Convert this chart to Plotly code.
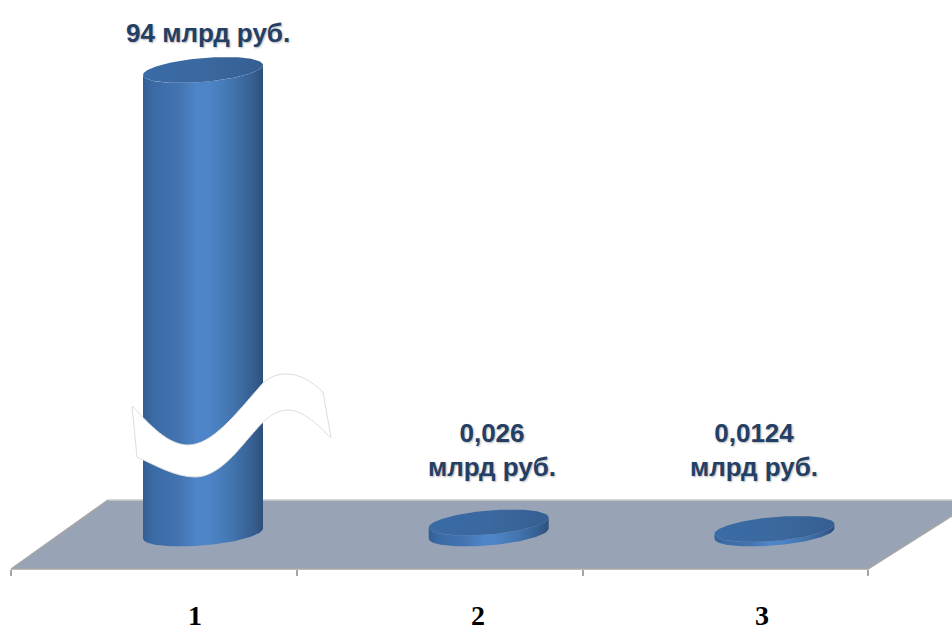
import numpy as np
import plotly.graph_objects as go

# ---- data ----
categories = ["1", "2", "3"]
value_labels = ["94 млрд руб.", "0,026<br>млрд руб.", "0,0124<br>млрд руб."]
# heights as drawn (the first column is drawn with a broken scale)
drawn_heights = [463.5, 11, 4.5]

# ---- frame: 1 x unit = one category, 1 y unit = one pixel, y=0 at column bases ----
W, H = 952, 626
X0_PX, CAT_PX, BASE_PX = 154.0, 285.7, 533.5


def fx(px):
    return (np.asarray(px, float) - X0_PX) / CAT_PX


def fy(py):
    return BASE_PX - np.asarray(py, float)


DEPTH = 49 / CAT_PX
RX, RY, TILT = 60 / CAT_PX, 12.0, 5.0
BODY_SCALE = [
    [0.0, "#325e92"], [0.08, "#3b6ba5"], [0.30, "#4374b0"], [0.45, "#4e85c8"],
    [0.55, "#4e85c8"], [0.75, "#4274ae"], [0.92, "#365e90"], [1.0, "#2e4f7a"],
]

fig = go.Figure()

# floor
floor_x = fx([11, 868, 977, 108, 11])
floor_y = fy([569, 569, 500, 500, 569])
fig.add_trace(go.Scatter(x=floor_x, y=floor_y, mode="lines", fill="toself",
                         fillcolor="#98a4b6", line=dict(width=0)))
fig.add_trace(go.Scatter(x=fx([108, 977]), y=fy([500, 500]), mode="lines",
                         line=dict(color="#cbcbcb", width=1.5)))
fig.add_trace(go.Scatter(x=fx([108, 11, 868, 977]), y=fy([500, 569, 569, 500]), mode="lines",
                         line=dict(color="#a6a6a6", width=1.5)))


def ellipse(cx, cy, start, stop, n=90):
    t = np.linspace(start, stop, n)
    return cx + RX * np.cos(t), cy - RY * np.sin(t) + TILT * np.cos(t)


# columns, drawn from the data arrays
for i, h in enumerate(drawn_heights):
    cx = i + DEPTH
    bx, by = ellipse(cx, 0, np.pi, 0)
    tx, ty = ellipse(cx, h, 0, np.pi)
    fig.add_trace(go.Scatter(
        x=np.r_[bx, tx], y=np.r_[by, ty], mode="lines", fill="toself",
        line=dict(width=0),
        fillgradient=dict(type="horizontal", colorscale=BODY_SCALE),
    ))
    cap_x, cap_y = ellipse(cx, h, 0, 2 * np.pi, 160)
    fig.add_trace(go.Scatter(
        x=cap_x, y=cap_y, mode="lines", fill="toself", line=dict(width=0),
        fillgradient=dict(type="horizontal",
                          colorscale=[[0, "#3a6ba6"], [0.5, "#3a689f"], [1, "#365f92"]]),
    ))

# axis break ribbon
wave = [
    ("M", [(132, 406)]),
    ("C", [(150, 425), (168, 445), (188, 445)]),
    ("C", [(212, 445), (235, 415), (263, 383)]),
    ("C", [(272, 375), (280, 374), (287, 374)]),
    ("C", [(300, 374), (312, 382), (323, 392)]),
    ("L", [(331, 438)]),
    ("C", [(318, 425), (303, 410), (288, 410)]),
    ("C", [(270, 410), (258, 428), (247, 440)]),
    ("C", [(232, 458), (215, 477), (195, 477)]),
    ("C", [(175, 477), (155, 465), (137, 457)]),
]
path = " ".join(
    cmd + " " + " ".join(f"{float(fx(px)):.5f},{float(fy(py)):.2f}" for px, py in pts)
    for cmd, pts in wave
) + " Z"
fig.add_shape(type="path", path=path, xref="x", yref="y", layer="above",
              fillcolor="#ffffff", line=dict(color="#dddddd", width=1))

# value labels
label_px = [(207.5, 33), (492, 450), (754, 450)]
for (px, py), text in zip(label_px, value_labels):
    fig.add_annotation(x=float(fx(px)), y=float(fy(py)), text=text, showarrow=False,
                       xanchor="center", yanchor="middle", align="center",
                       font=dict(family="Liberation Sans", size=26, color="#243f66",
                                 weight="bold", shadow="1px 1px 2px #b5b5b5"))

# category labels
category_px = [195, 478, 762]
for px, c in zip(category_px, categories):
    fig.add_annotation(x=float(fx(px)), y=float(fy(615)), text=c, showarrow=False,
                       xanchor="center", yanchor="middle",
                       font=dict(family="Liberation Serif", size=28, color="#000000",
                                 weight="bold"))

fig.update_layout(
    width=W, height=H, margin=dict(l=0, r=0, t=0, b=0, autoexpand=False),
    paper_bgcolor="#ffffff", plot_bgcolor="#ffffff", showlegend=False, hovermode=False,
    xaxis=dict(range=[float(fx(0)), float(fx(W))], showgrid=False, zeroline=False, showline=False,
               tickvals=[-0.5, 0.5, 1.5, 2.5], ticktext=["", "", "", ""],
               ticks="outside", ticklen=6, tickwidth=1.5, tickcolor="#a6a6a6",
               anchor="free", position=(H - 569) / H),
    yaxis=dict(range=[float(fy(H)), float(fy(0))], visible=False),
)
fig.write_html("out.html", config={"displayModeBar": False},
               post_script="document.body.style.margin='0';")
